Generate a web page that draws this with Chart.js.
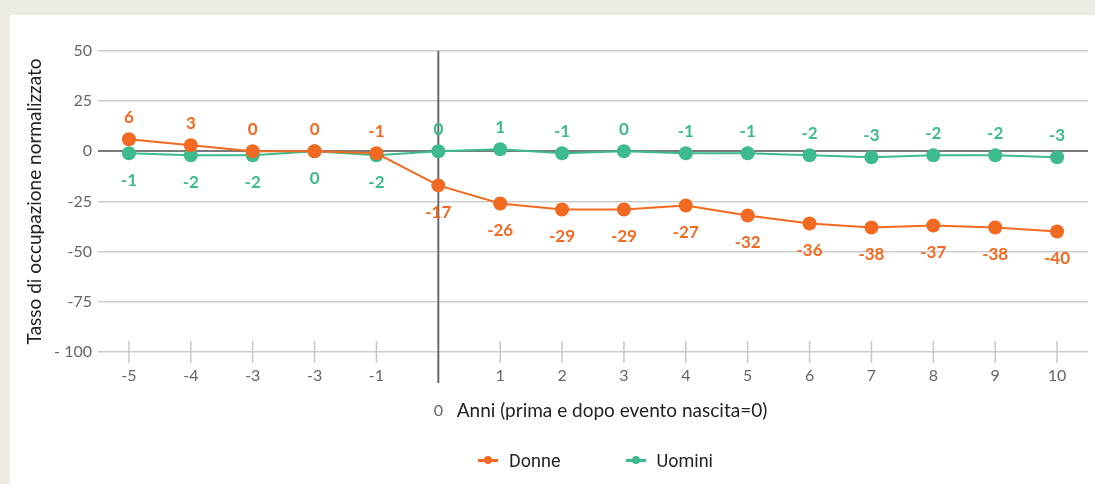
<!DOCTYPE html>
<html lang="it">
<head>
<meta charset="utf-8">
<title>Tasso di occupazione normalizzato</title>
<script src="https://cdn.jsdelivr.net/npm/chart.js@4.4.0/dist/chart.umd.min.js"></script>
<style>
    html, body {
        margin: 0;
        padding: 0;
        width: 1095px;
        height: 484px;
        overflow: hidden;
        background: #eeebe4;
    }
    .card {
        position: absolute;
        left: 10px;
        top: 15px;
        width: 1085px;
        height: 469px;
        background: #ffffff;
    }
    #legend {
        position: absolute;
        left: 88px;
        width: 995px;
        top: 433px;
        height: 24px;
        display: flex;
        justify-content: center;
        align-items: center;
        gap: 65px;
        font-family: Roboto, sans-serif;
        font-size: 18px;
        color: #222;
    }
    .legend_item {
        display: flex;
        align-items: center;
    }
    .legend_marker {
        position: relative;
        width: 20px;
        height: 10px;
        margin-right: 11px;
    }
    .legend_marker .bar {
        position: absolute;
        left: 0;
        top: 4px;
        width: 20px;
        height: 2.5px;
    }
    .legend_marker .dot {
        position: absolute;
        left: 6px;
        top: 1px;
        width: 8px;
        height: 8px;
        border-radius: 50%;
    }
</style>
</head>
<body>
<div class="card">
    <canvas id="occupazione_chart" width="1085" height="469"></canvas>
    <div id="legend"></div>
</div>
<script>
/* Data: years before/after birth and normalised employment rate */
const anni = ['-5', '-4', '-3', '-3', '-1', '0', '1', '2', '3', '4', '5', '6', '7', '8', '9', '10'];
const donne = [6, 3, 0, 0, -1, -17, -26, -29, -29, -27, -32, -36, -38, -37, -38, -40];
const uomini = [-1, -2, -2, 0, -2, 0, 1, -1, 0, -1, -1, -2, -3, -2, -2, -3];
const yTicks = [50, 25, 0, -25, -50, -75, -100];

const orange = '#f26a21';
const green = '#3dbb8c';
const birthIndex = anni.indexOf('0');

/* Small tick marks across the bottom line and the vertical line at birth */
const axisMarks = {
    id: 'axisMarks',
    beforeDatasetsDraw(chart) {
        const ctx = chart.ctx;
        const x = chart.scales.x;
        const y = chart.scales.y;
        const base = y.getPixelForValue(-100);
        ctx.save();
        anni.forEach((a, i) => {
            const px = x.getPixelForTick(i);
            ctx.beginPath();
            if (i === birthIndex) {
                ctx.strokeStyle = '#6b6b6b';
                ctx.lineWidth = 2;
                ctx.moveTo(px, chart.chartArea.top);
                ctx.lineTo(px, base + 31);
            } else {
                ctx.strokeStyle = '#c8c8c8';
                ctx.lineWidth = 1.5;
                ctx.moveTo(px, base - 11);
                ctx.lineTo(px, base + 11);
            }
            ctx.stroke();
        });
        ctx.restore();
    }
};

/* Value labels: before birth women above and men below, afterwards swapped */
const valueLabels = {
    id: 'valueLabels',
    afterDatasetsDraw(chart) {
        const ctx = chart.ctx;
        ctx.save();
        ctx.font = 'bold 17px Lato';
        ctx.textAlign = 'center';
        ctx.textBaseline = 'middle';
        chart.data.datasets.forEach((ds, d) => {
            const meta = chart.getDatasetMeta(d);
            meta.data.forEach((pt, i) => {
                let above = i < birthIndex;
                if (d === 1) above = !above;
                ctx.fillStyle = ds.borderColor;
                ctx.fillText(String(ds.data[i]), pt.x, pt.y + (above ? -22 : 27));
            });
        });
        ctx.restore();
    }
};

const canvas = document.getElementById('occupazione_chart');

const chart = new Chart(canvas, {
    type: 'line',
    data: {
        labels: anni,
        datasets: [{
            label: 'Donne',
            data: donne,
            borderColor: orange,
            backgroundColor: orange,
            borderWidth: 2,
            pointRadius: 7,
            pointHoverRadius: 7,
            pointBorderWidth: 0
        }, {
            label: 'Uomini',
            data: uomini,
            borderColor: green,
            backgroundColor: green,
            borderWidth: 2,
            pointRadius: 7,
            pointHoverRadius: 7,
            pointBorderWidth: 0
        }]
    },
    options: {
        responsive: false,
        animation: false,
        layout: {
            padding: { top: 36, right: 2, left: 0, bottom: 61.5 }
        },
        scales: {
            x: {
                offset: true,
                grid: { display: false, drawTicks: false },
                border: { display: false },
                ticks: {
                    color: '#666',
                    font: { family: 'Lato', size: 16, lineHeight: 1.1 },
                    padding: 15,
                    maxRotation: 0,
                    autoSkip: false,
                    callback: function(value, index) {
                        const label = anni[index];
                        return index === birthIndex ? ['', '', label] : label;
                    }
                },
                title: {
                    display: true,
                    // leading spaces keep the title clear of the "0" tick
                    text: '\u2003\u2003\u2002Anni (prima e dopo evento nascita=0)',
                    color: '#222',
                    font: { family: 'Lato', size: 19 },
                    padding: { top: -35, bottom: 0 }
                }
            },
            y: {
                min: -100,
                max: 50,
                afterBuildTicks: scale => {
                    scale.ticks = yTicks.map(v => ({ value: v }));
                },
                afterFit: scale => {
                    scale.width = 88;
                },
                grid: {
                    drawTicks: false,
                    color: ctx => ctx.tick && ctx.tick.value === 0 ? '#7a7a7a' : '#cdcdcd',
                    lineWidth: ctx => ctx.tick && ctx.tick.value === 0 ? 2 : 1.5
                },
                border: { display: false },
                ticks: {
                    color: '#666',
                    font: { family: 'Lato', size: 16 },
                    padding: 6,
                    callback: v => v === -100 ? '- 100' : String(v)
                },
                title: {
                    display: true,
                    text: 'Tasso di occupazione normalizzato',
                    color: '#222',
                    font: { family: 'Lato', size: 19 },
                    padding: { top: 13, bottom: 0 }
                }
            }
        },
        plugins: {
            legend: { display: false },
            tooltip: { enabled: false }
        }
    },
    plugins: [axisMarks, valueLabels]
});

/* HTML legend built from the datasets */
const legend = document.getElementById('legend');
chart.data.datasets.forEach(ds => {
    const item = document.createElement('div');
    item.className = 'legend_item';
    item.innerHTML = `
        <span class="legend_marker">
            <span class="bar" style="background:${ds.borderColor}"></span>
            <span class="dot" style="background:${ds.borderColor}"></span>
        </span>
        <span>${ds.label}</span>
    `;
    legend.appendChild(item);
});
</script>
</body>
</html>
